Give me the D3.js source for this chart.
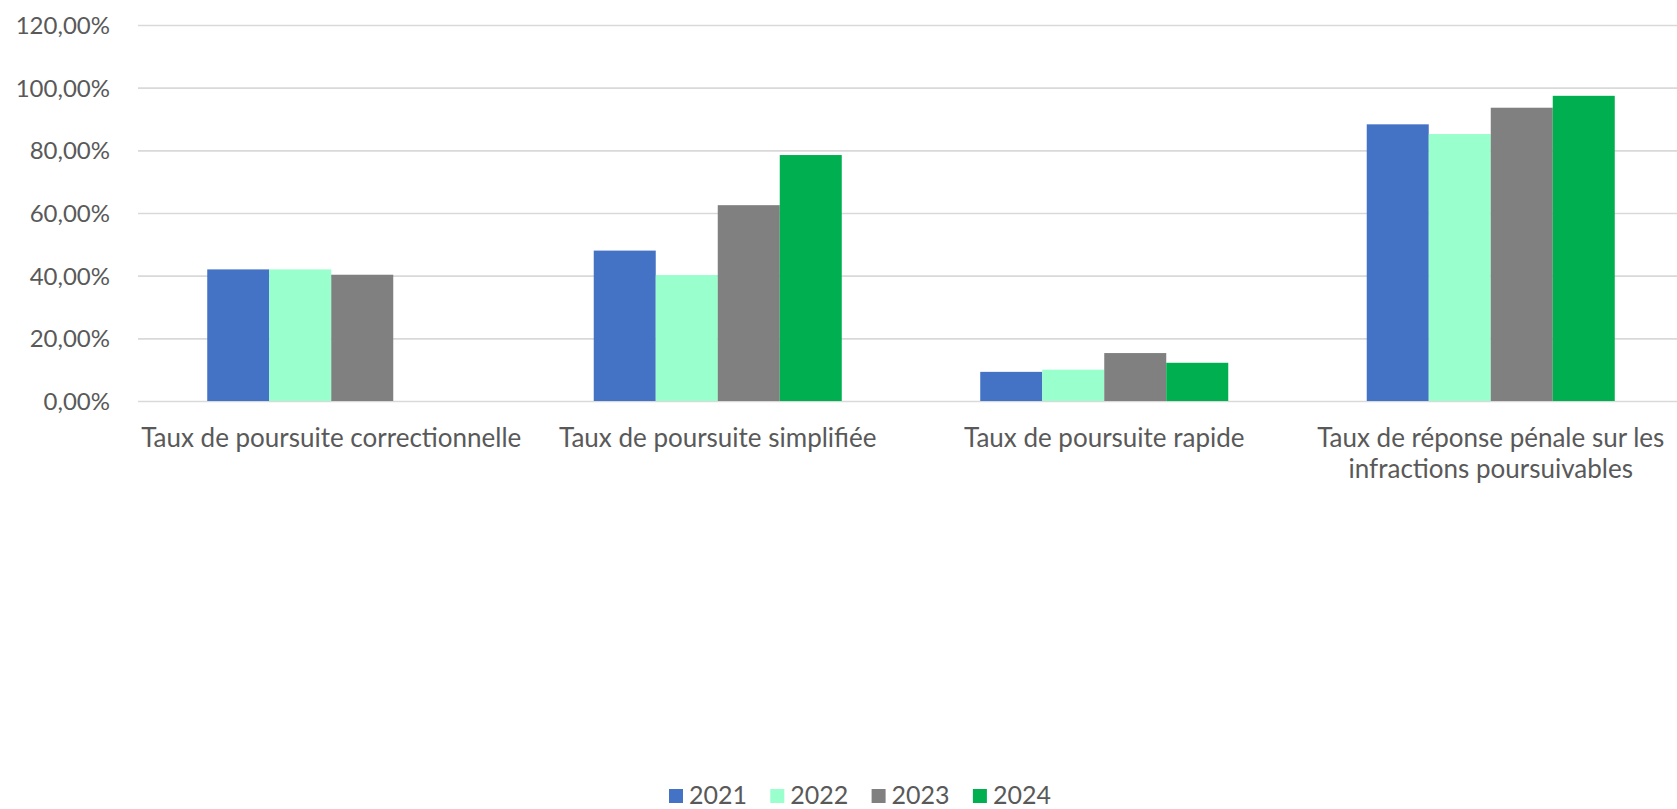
<!DOCTYPE html>
<html>
<head>
<meta charset="utf-8">
<script src="https://cdn.jsdelivr.net/npm/d3@7/dist/d3.min.js"></script>
<style>
  html, body { margin: 0; padding: 0; background: #ffffff; }
  svg { display: block; }
  text { font-family: Lato, "Open Sans", sans-serif; fill: #595959; }
</style>
</head>
<body>
<svg id="chart" width="1677" height="809"></svg>
<script>
const categories = [
  ["Taux de poursuite correctionnelle"],
  ["Taux de poursuite simplifiée"],
  ["Taux de poursuite rapide"],
  ["Taux de réponse pénale sur les", "infractions poursuivables"]
];
const years = ["2021", "2022", "2023", "2024"];
const values2021 = [42.0, 48.0, 9.3, 88.3];
const values2022 = [42.0, 40.2, 10.0, 85.2];
const values2023 = [40.3, 62.5, 15.3, 93.6];
const values2024 = [null, 78.5, 12.2, 97.4];
const yTicks = [0, 20, 40, 60, 80, 100, 120];
const colors = ["#4472C4", "#99FFCC", "#808080", "#00B050"];

(function () {
const series = [values2021, values2022, values2023, values2024];
const svg = d3.select("#chart");

const pLeft = 138, pRight = 1684, pTop = 25, pBottom = 401;
const catKeys = categories.map((c, i) => i);

const x0 = d3.scaleBand().domain(catKeys).range([pLeft, pRight])
  .paddingInner(0.3583).paddingOuter(0.17915);
const x1 = d3.scaleBand().domain(years).range([0, x0.bandwidth()]);
const y = d3.scaleLinear().domain([0, 120]).range([pBottom, pTop]);

// gridlines + tick labels
const yAxis = d3.axisLeft(y).tickValues(yTicks)
  .tickSize(-(pRight - pLeft))
  .tickFormat(d => d3.format(".2f")(d).replace(".", ",") + "%");
const gy = svg.append("g").attr("transform", `translate(${pLeft},0)`).call(yAxis);
gy.select(".domain").remove();
gy.selectAll(".tick line").attr("stroke", "#d9d9d9").attr("stroke-width", 1.6);
gy.selectAll(".tick text")
  .attr("x", -28)
  .attr("dy", "0.35em")
  .style("font-size", "24px")
  .attr("fill", "#595959");

// bars
const groups = svg.append("g").selectAll("g")
  .data(catKeys).join("g")
  .attr("transform", d => `translate(${x0(d)},0)`);
groups.selectAll("rect")
  .data(ci => years.map((yr, si) => ({ yr, si, v: series[si][ci] })).filter(d => d.v != null))
  .join("rect")
  .attr("x", d => x1(d.yr))
  .attr("width", x1.bandwidth())
  .attr("y", d => y(d.v))
  .attr("height", d => y(0) - y(d.v))
  .attr("fill", d => colors[d.si]);

// category labels
const xl = svg.append("g");
categories.forEach((lines, i) => {
  const cx = x0(i) + x0.bandwidth() / 2;
  lines.forEach((ln, j) => {
    xl.append("text")
      .attr("x", cx)
      .attr("y", 447 + j * 31)
      .attr("text-anchor", "middle")
      .style("font-size", "26px")
      .text(ln);
  });
});

// legend
const legendX = d3.scaleBand().domain(years).range([669, 669 + 4 * 101.3]);
const lg = svg.append("g").selectAll("g").data(years).join("g")
  .attr("transform", d => `translate(${legendX(d)},0)`);
lg.append("rect").attr("x", 0).attr("y", 789).attr("width", 14).attr("height", 14)
  .attr("fill", (d, i) => colors[i]);
lg.append("text").attr("x", 20).attr("y", 804)
  .style("font-size", "25px")
  .text(d => d);
})();
</script>
</body>
</html>
